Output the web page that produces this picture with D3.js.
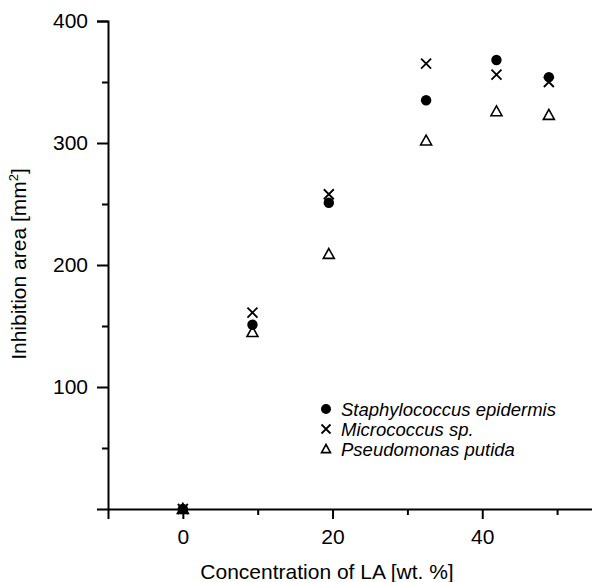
<!DOCTYPE html>
<html>
<head>
<meta charset="utf-8">
<script src="https://cdn.jsdelivr.net/npm/d3@7"></script>
<style>
  body { margin: 0; background: #fff; }
  svg { font-family: "Liberation Sans", Arial, sans-serif; }
</style>
</head>
<body>
<div id="chart"></div>
<script>
// concentration of LA [wt. %]
const concentration = [0, 9.3, 19.5, 32.5, 41.9, 48.9];
// inhibition area [mm2] per organism
const staphylococcus = [0, 151, 251, 335, 368, 354];
const micrococcus = [0, 161, 258, 365, 356, 350];
const pseudomonas = [0, 145, 209, 302, 326, 323];

const yMajor = [100, 200, 300, 400];
const yMinor = [50, 150, 250, 350];
const xMajor = [0, 20, 40];
const xMinor = [10, 30, 50];

const legendNames = ['Staphylococcus epidermis', 'Micrococcus sp.', 'Pseudomonas putida'];

const W = 592, H = 582;

const svg = d3.select('#chart')
  .append('svg')
  .attr('width', W)
  .attr('height', H);

// scales
const x = d3.scaleLinear()
  .domain([-10, 56])
  .range([108, 602]);

const y = d3.scaleLinear()
  .domain([0, 400])
  .range([509, 21]);

// axes
svg.append('g')
  .attr('transform', `translate(0,${y(0)})`)
  .call(d3.axisBottom(x).tickValues(xMajor).tickSize(10).tickPadding(10).tickFormat(d3.format('d')));

svg.append('g')
  .attr('transform', `translate(0,${y(0)})`)
  .call(d3.axisBottom(x).tickValues(xMinor).tickSize(6).tickFormat(''))
  .select('.domain').remove();

svg.append('g')
  .attr('transform', `translate(${x(-10)},0)`)
  .call(d3.axisLeft(y).tickValues(yMajor).tickSize(11).tickPadding(9).tickFormat(d3.format('d')));

svg.append('g')
  .attr('transform', `translate(${x(-10)},0)`)
  .call(d3.axisLeft(y).tickValues(yMinor).tickSize(6).tickFormat(''))
  .select('.domain').remove();

svg.selectAll('.domain')
  .attr('stroke', '#000')
  .attr('stroke-width', 2);

svg.selectAll('.tick line')
  .attr('stroke', '#000')
  .attr('stroke-width', 2);

svg.selectAll('.tick text')
  .attr('fill', '#000')
  .style('font-size', '21px');

// axis titles
svg.append('text')
  .attr('x', 327)
  .attr('y', 579)
  .attr('text-anchor', 'middle')
  .style('font-size', '21px')
  .text('Concentration of LA [wt. %]');

const yTitle = svg.append('text')
  .attr('transform', `translate(26,264) rotate(-90)`)
  .attr('text-anchor', 'middle')
  .style('font-size', '21px');
yTitle.append('tspan').text('Inhibition area [mm');
yTitle.append('tspan').attr('dy', -8).style('font-size', '13px').text('2');
yTitle.append('tspan').attr('dy', 8).text(']');

// markers
function drawCircle(g, cx, cy, r) {
  g.append('circle')
    .attr('cx', cx).attr('cy', cy).attr('r', r)
    .attr('fill', '#000');
}

function drawCross(g, cx, cy, s) {
  g.append('path')
    .attr('d', `M${cx - s},${cy - s}L${cx + s},${cy + s}M${cx - s},${cy + s}L${cx + s},${cy - s}`)
    .attr('stroke', '#000')
    .attr('stroke-width', 1.8)
    .attr('fill', 'none');
}

function drawTriangle(g, cx, cy, s) {
  g.append('path')
    .attr('d', `M${cx},${cy - s}L${cx + s},${cy + s * 0.8}L${cx - s},${cy + s * 0.8}Z`)
    .attr('stroke', '#000')
    .attr('stroke-width', 1.6)
    .attr('fill', 'none');
}

const pts = svg.append('g');

concentration.forEach((c, i) => {
  drawTriangle(pts, x(c), y(pseudomonas[i]), 5.5);
});
concentration.forEach((c, i) => {
  drawCircle(pts, x(c), y(staphylococcus[i]), 5.2);
});
concentration.forEach((c, i) => {
  drawCross(pts, x(c), y(micrococcus[i]), 5);
});

// legend
const legend = svg.append('g')
  .attr('transform', 'translate(326,409)');

drawCircle(legend, 0, 0, 5);
drawCross(legend, 0, 20, 4.5);
drawTriangle(legend, 0, 40, 4.5);

legend.selectAll('text.lg')
  .data(legendNames)
  .enter()
  .append('text')
  .attr('class', 'lg')
  .attr('x', 15)
  .attr('y', (d, i) => i * 20 + 6.5)
  .style('font-size', '18.5px')
  .style('font-style', 'italic')
  .text(d => d);
</script>
</body>
</html>
